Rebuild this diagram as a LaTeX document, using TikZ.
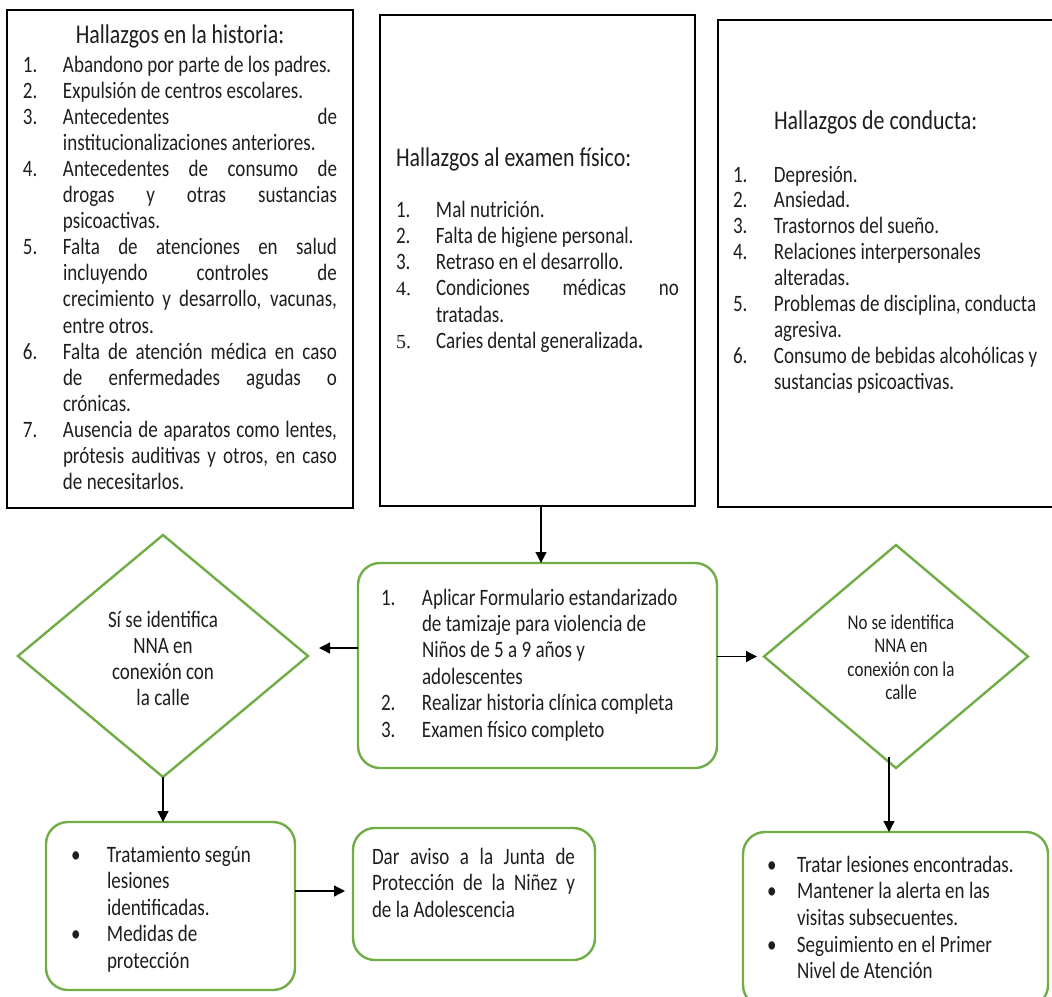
\documentclass[tikz,border=0pt]{standalone}
\usepackage{fontspec}
\setmainfont{Carlito}[FakeStretch=0.81]
\newfontfamily\serifnum{Liberation Serif}
\usetikzlibrary{shapes.geometric,arrows.meta}

\definecolor{flowgreen}{HTML}{70AD47}
\definecolor{ink}{HTML}{1E1E1E}

% list helpers: label column of width \labw, justified lines of width \jw
\newlength\labw
\newlength\jw
\newcommand\lrow[2]{\par\noindent\makebox[\labw][l]{#1}#2}
\newcommand\crow[1]{\par\noindent\hspace*{\labw}#1}
\newcommand\jst[1]{\makebox[\jw][s]{#1}}

\begin{document}
\begin{tikzpicture}[x=1pt,y=-1pt,
  every node/.style={inner sep=0pt,outer sep=0pt,text=ink},
  findbox/.style={draw=black,line width=2pt,rectangle},
  stepbox/.style={draw=flowgreen,line width=2.4pt,rounded corners=22pt,rectangle},
  decision/.style={draw=flowgreen,line width=2.4pt,diamond},
  flow/.style={draw=black,line width=1.3pt,-{Triangle[length=11pt,width=11pt]}},
  txt/.style={anchor=base west,font=\fontsize{23.5}{26.1}\selectfont},
  heading/.style={anchor=base west,font=\fontsize{27}{30}\selectfont}]

\useasboundingbox (0,0) rectangle (1052,996);

% ---------- boxes ----------
\node[findbox,minimum width=346pt,minimum height=498pt] (hist) at (180,259) {};
\node[findbox,minimum width=315pt,minimum height=491pt] (fis) at (537.5,260.5) {};
\node[findbox,minimum width=344pt,minimum height=487pt] (cond) at (890,263.5) {};
\node[stepbox,minimum width=359pt,minimum height=205pt] (proc) at (537.5,665.5) {};
\node[decision,minimum width=290pt,minimum height=242pt] (si) at (163,656) {};
\node[decision,minimum width=264pt,minimum height=223pt] (no) at (896,656.5) {};
\node[stepbox,minimum width=249pt,minimum height=168pt] (trat) at (170.5,906) {};
\node[stepbox,minimum width=242pt,minimum height=132pt] (aviso) at (474,894) {};
\node[stepbox,minimum width=305pt,minimum height=175pt] (segui) at (895.5,919.5) {};

% ---------- texts ----------
\node[heading,anchor=base] (histT) at (180,43) {Hallazgos en la historia:};
\node[txt] (histL) at (23,72) {\begin{minipage}[t]{380pt}\setlength\labw{40pt}\setlength\jw{274pt}%
\lrow{1.}{Abandono por parte de los padres.}
\lrow{2.}{Expulsión de centros escolares.}
\lrow{3.}{\jst{Antecedentes de}}
\crow{institucionalizaciones anteriores.}
\lrow{4.}{\jst{Antecedentes de consumo de}}
\crow{\jst{drogas y otras sustancias}}
\crow{psicoactivas.}
\lrow{5.}{\jst{Falta de atenciones en salud}}
\crow{\jst{incluyendo controles de}}
\crow{\jst{crecimiento y desarrollo, vacunas,}}
\crow{entre otros.}
\lrow{6.}{\jst{Falta de atención médica en caso}}
\crow{\jst{de enfermedades agudas o}}
\crow{crónicas.}
\lrow{7.}{\jst{Ausencia de aparatos como lentes,}}
\crow{\jst{prótesis auditivas y otros, en caso}}
\crow{de necesitarlos.}
\end{minipage}};

\node[heading] (fisT) at (396,166) {Hallazgos al examen físico:};
\node[txt,font=\fontsize{23.5}{26.3}\selectfont] (fisL) at (396,217) {\begin{minipage}[t]{380pt}\setlength\labw{40pt}\setlength\jw{243pt}%
\lrow{1.}{Mal nutrición.}
\lrow{2.}{Falta de higiene personal.}
\lrow{3.}{Retraso en el desarrollo.}
\lrow{{\serifnum\fontsize{20}{26.3}\selectfont 4.}}{\jst{Condiciones médicas no}}
\crow{tratadas.}
\lrow{{\serifnum\fontsize{20}{26.3}\selectfont 5.}}{Caries dental generalizada\textbf{.}}
\end{minipage}};

\node[heading] (condT) at (774,129) {Hallazgos de conducta:};
\node[txt,font=\fontsize{23.5}{25.9}\selectfont] (condL) at (733,182) {\begin{minipage}[t]{380pt}\setlength\labw{41pt}%
\lrow{1.}{Depresión.}
\lrow{2.}{Ansiedad.}
\lrow{3.}{Trastornos del sueño.}
\lrow{4.}{Relaciones interpersonales}
\crow{alteradas.}
\lrow{5.}{Problemas de disciplina, conducta}
\crow{agresiva.}
\lrow{6.}{Consumo de bebidas alcohólicas y}
\crow{sustancias psicoactivas.}
\end{minipage}};

\node[txt,font=\fontsize{23.5}{26.4}\selectfont] (procL) at (381,605) {\begin{minipage}[t]{380pt}\setlength\labw{41pt}%
\lrow{1.}{Aplicar Formulario estandarizado}
\crow{de tamizaje para violencia de}
\crow{Niños de 5 a 9 años y}
\crow{adolescentes}
\lrow{2.}{Realizar historia clínica completa}
\lrow{3.}{Examen físico completo}
\end{minipage}};

\node[txt,anchor=base,font=\fontsize{23.5}{26}\selectfont] (siT) at (163,627)
  {\parbox[t]{240pt}{\centering Sí se identifica\\NNA en\\conexión con\\la calle}};
\node[txt,anchor=base,font=\fontsize{21}{23.5}\selectfont] (noT) at (901,629)
  {\parbox[t]{240pt}{\centering No se identifica\\NNA en\\conexión con la\\calle}};

\node[txt,font=\fontsize{23.5}{26.5}\selectfont] (tratL) at (71,862) {\begin{minipage}[t]{300pt}\setlength\labw{36pt}%
\lrow{\textbullet}{Tratamiento según}
\crow{lesiones}
\crow{identificadas.}
\lrow{\textbullet}{Medidas de}
\crow{protección}
\end{minipage}};

\node[txt,font=\fontsize{23.5}{26.5}\selectfont] (avisoL) at (372,864) {\begin{minipage}[t]{300pt}\setlength\jw{203pt}%
\noindent\jst{Dar aviso a la Junta de}\par
\noindent\jst{Protección de la Niñez y}\par
\noindent de la Adolescencia
\end{minipage}};

\node[txt,font=\fontsize{23.5}{26.7}\selectfont] (seguiL) at (767,872) {\begin{minipage}[t]{300pt}\setlength\labw{30pt}%
\lrow{\textbullet}{Tratar lesiones encontradas.}
\lrow{\textbullet}{Mantener la alerta en las}
\crow{visitas subsecuentes.}
\lrow{\textbullet}{Seguimiento en el Primer}
\crow{Nivel de Atención}
\end{minipage}};

% ---------- connectors ----------
\draw[flow] ([xshift=3.5pt]fis.south) -- ([xshift=3.5pt]proc.north);
\draw[flow] ([yshift=17.5pt]proc.west) -- ([xshift=11pt,yshift=8pt]si.east);
\draw[flow] (proc.east |- no.west) -- ([xshift=-7pt]no.west);
\draw[flow] (si.south) -- (si.south |- trat.north);
\draw[flow] ([yshift=15pt]trat.east) -- ([xshift=-8pt,yshift=3pt]aviso.west);
\draw[flow] ([xshift=-7pt,yshift=11pt]no.south) -- ([xshift=-6.5pt]segui.north);
\end{tikzpicture}
\end{document}
